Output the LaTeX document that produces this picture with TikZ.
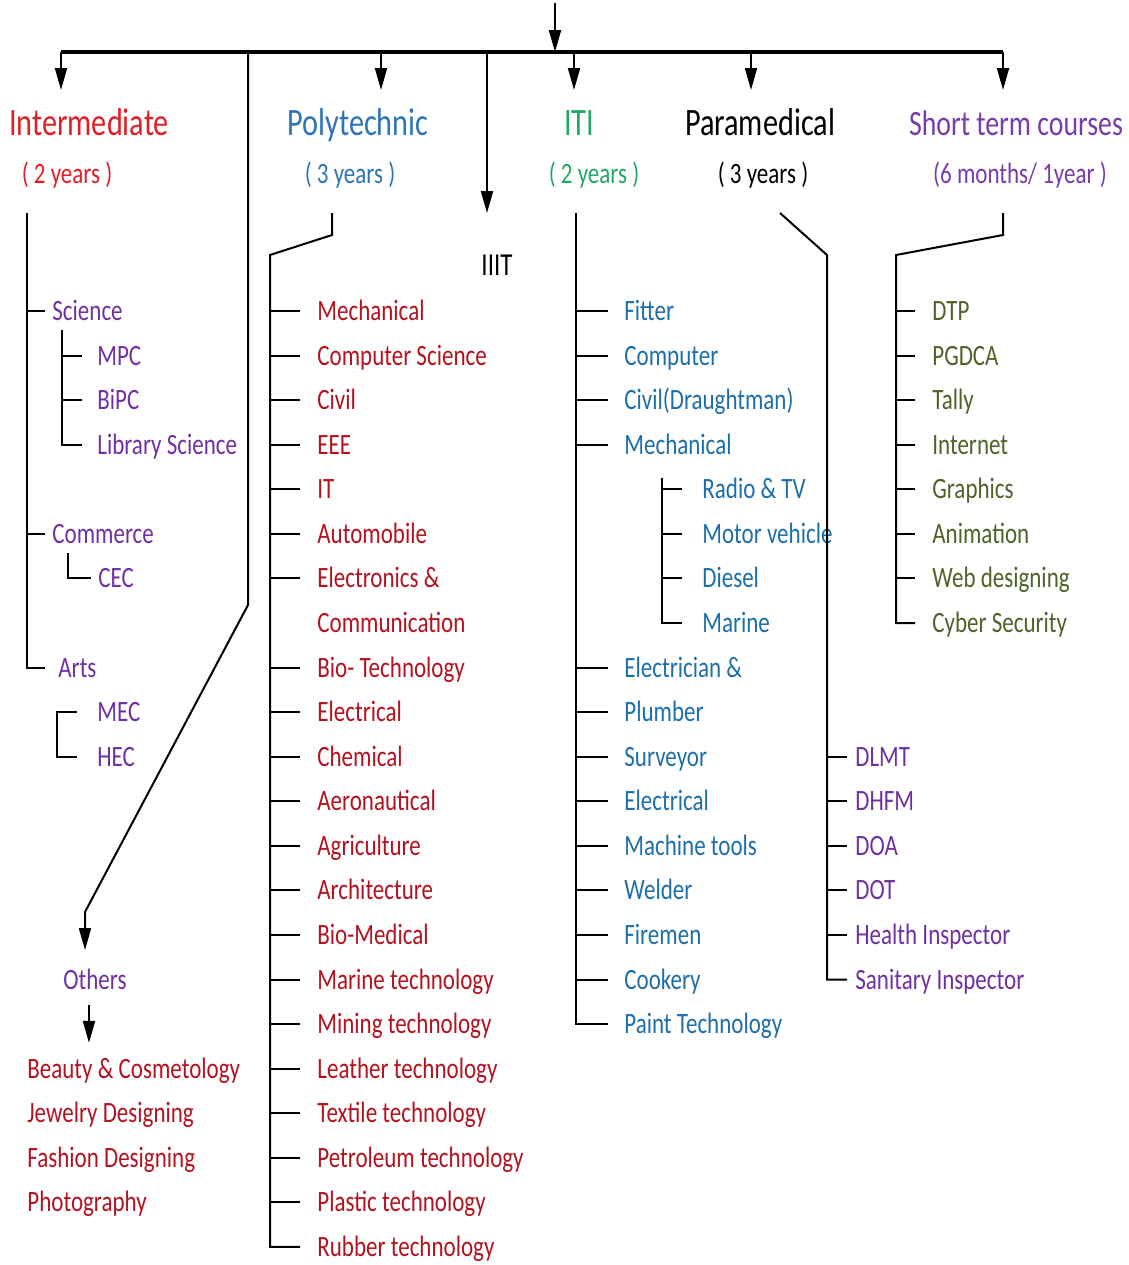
\documentclass[tikz,border=0pt]{standalone}
\usepackage{fontspec}
\setmainfont{Carlito}[FakeStretch=0.78]
\usepackage{tikz}
\usetikzlibrary{arrows.meta,positioning}
\definecolor{intred}{RGB}{226,30,38}
\definecolor{intpurple}{RGB}{112,48,160}
\definecolor{polyblue}{RGB}{46,117,182}
\definecolor{polyred}{RGB}{180,18,30}
\definecolor{itigreen}{RGB}{32,168,100}
\definecolor{itiblue}{RGB}{30,110,170}
\definecolor{shortpurple}{RGB}{120,60,170}
\definecolor{shortolive}{RGB}{79,98,40}
\tikzset{
    branch/.style={line width=1pt, black},
    % arrows with a long filled head
    downarrow/.style={
        line width=1pt,
        black,
        -{Triangle[length=11pt, width=6pt]}
    },
    titlenode/.style={font=\fontsize{19.4}{22}\selectfont, inner sep=0pt, text height=12.5pt, text depth=0pt},
    yearsnode/.style={font=\fontsize{14.75}{17}\selectfont, inner sep=0pt, text height=9.5pt, text depth=0pt},
    itemnode/.style={yearsnode, anchor=west, inner xsep=#1},
    itemnode/.default=8pt
}

\begin{document}
\begin{tikzpicture}[x=0.5pt, y=-0.5pt]
    \useasboundingbox (0,0) rectangle (1129,1265);

    % main bar
    \coordinate (barL) at (61,52);
    \coordinate (barR) at (1003,52);
    \coordinate (topin) at (555,3);
    \draw[line width=2.2pt] (barL) -- (barR);
    \draw[downarrow] (topin) -- (topin |- barL);

    % stream titles
    \node[titlenode, text=intred] (int) at (89,123) {Intermediate};
    \node[yearsnode, text=intred] (intyr) at (67,174) {( 2 years )};
    \node[titlenode, text=polyblue] (poly) at (358,123) {Polytechnic};
    \node[yearsnode, text=polyblue] (polyyr) at (350,174) {( 3 years )};
    \node[titlenode, text=itigreen] (iti) at (579,123) {ITI};
    \node[yearsnode, text=itigreen] (itiyr) at (594,174) {( 2 years )};
    \node[titlenode] (para) at (760,123) {Paramedical};
    \node[yearsnode] (parayr) at (763,174) {( 3 years )};
    \node[titlenode, font=\fontsize{17.8}{22}\selectfont, text=shortpurple] (short) at (1016,123) {Short term courses};
    \node[yearsnode, text=shortpurple] (shortyr) at (1020,174) {(6 months/ 1year )};
    \node[yearsnode, font=\fontsize{16}{18}\selectfont, text height=10.3pt] (iiit) at (497,265) {IIIT};

    % arrows down from the bar
    \foreach \n/\x in {int/61, poly/381, iti/574, para/751, short/1003}
        \coordinate (\n tip) at (\x,90);
    \foreach \n in {int, poly, iti, para, short}
        \draw[downarrow] (\n tip |- barL) -- (\n tip);
    \coordinate (iiittip) at (487,213);
    \draw[downarrow] (iiittip |- barL) -- (iiittip);

    % Intermediate
    \coordinate (inttop) at (27,213);
    \node[itemnode=3.5pt, text=intpurple] (sci) at (45,311) {Science};
    \node[itemnode=3.5pt, text=intpurple] (com) at (45,{311+5*44.57}) {Commerce};
    \node[itemnode=6.5pt, text=intpurple] (arts) at (45,{311+8*44.57}) {Arts};
    \draw[branch] (inttop) -- (inttop |- arts.west) -- (arts.west);
    \draw[branch] (inttop |- sci.west) -- (sci.west);
    \draw[branch] (inttop |- com.west) -- (com.west);

    \coordinate (scitop) at (62,330);
    \foreach \r/\n/\t in {1/mpc/MPC, 2/bipc/BiPC, 3/lib/Library Science}
        \node[itemnode=7.5pt, text=intpurple] (\n) at (82,{311+44.57*\r}) {\t};
    \draw[branch] (scitop) -- (scitop |- lib.west) -- (lib.west);
    \draw[branch] (scitop |- mpc.west) -- (mpc.west);
    \draw[branch] (scitop |- bipc.west) -- (bipc.west);

    \coordinate (comtop) at (68,553);
    \node[itemnode=3.5pt, text=intpurple] (cec) at (91,{311+6*44.57}) {CEC};
    \draw[branch] (comtop) -- (comtop |- cec.west) -- (cec.west);

    \coordinate (artsline) at (57,700);
    \node[itemnode=10pt, text=intpurple] (mec) at (77,{311+9*44.57}) {MEC};
    \node[itemnode=10pt, text=intpurple] (hec) at (77,{311+10*44.57}) {HEC};
    \draw[branch] (mec.west) -- (artsline |- mec.west) -- (artsline |- hec.west) -- (hec.west);

    % Others
    \coordinate (othtop) at (248,52);
    \coordinate (othknee) at (248,605);
    \coordinate (othbend) at (85,912);
    \node[yearsnode, text=intpurple] (oth) at (95,980) {Others};
    \draw[downarrow, shorten >=10pt] (othtop) -- (othknee) -- (othbend) -- (othbend |- oth.north);
    \foreach \r/\n/\t in {17/o1/Beauty \& Cosmetology, 18/o2/Jewelry Designing, 19/o3/Fashion Designing, 20/o4/Photography}
        \node[itemnode=0pt, text=polyred] (\n) at (27,{311+44.57*\r}) {\t};
    \draw[downarrow, shorten <=7.5pt, shorten >=8pt] ([xshift=-3pt]oth.south) -- ([xshift=-3pt]oth.south |- o1.north);

    % Polytechnic
    \coordinate (polystub) at (332,213);
    \coordinate (polyknee) at (332,235);
    \coordinate (polytop) at (270,255);
    \foreach \r/\t in {0/Mechanical, 1/Computer Science, 2/Civil, 3/EEE, 4/IT, 5/Automobile,
        6/Electronics \&, 7/Communication, 8/Bio- Technology, 9/Electrical, 10/Chemical,
        11/Aeronautical, 12/Agriculture, 13/Architecture, 14/Bio-Medical, 15/Marine technology,
        16/Mining technology, 17/Leather technology, 18/Textile technology,
        19/Petroleum technology, 20/Plastic technology, 21/Rubber technology}
        \node[itemnode=8.5pt, text=polyred] (p\r) at (300,{311+44.57*\r}) {\t};
    \draw[branch] (polystub) -- (polyknee) -- (polytop) -- (polytop |- p21.west) -- (p21.west);
    \foreach \r in {0,1,2,3,4,5,6,8,9,10,11,12,13,14,15,16,17,18,19,20}
        \draw[branch] (polytop |- p\r.west) -- (p\r.west);

    % ITI
    \coordinate (itop) at (576,213);
    \foreach \r/\t in {0/Fitter, 1/Computer, 2/{Civil(Draughtman)}, 3/Mechanical, 8/Electrician \&,
        9/Plumber, 10/Surveyor, 11/Electrical, 12/Machine tools, 13/Welder, 14/Firemen,
        15/Cookery, 16/Paint Technology}
        \node[itemnode=8pt, text=itiblue] (i\r) at (608,{311+44.57*\r}) {\t};
    \foreach \r/\t in {4/Radio \& TV, 5/Motor vehicle, 6/Diesel, 7/Marine}
        \node[itemnode=10pt, text=itiblue] (i\r) at (682,{311+44.57*\r}) {\t};
    \draw[branch] (itop) -- (itop |- i16.west) -- (i16.west);
    \foreach \r in {0,1,2,3,8,9,10,11,12,13,14,15}
        \draw[branch] (itop |- i\r.west) -- (i\r.west);
    \coordinate (mechsub) at (662,478);
    \draw[branch] (mechsub) -- (mechsub |- i7.west) -- (i7.west);
    \foreach \r in {4,5,6}
        \draw[branch] (mechsub |- i\r.west) -- (i\r.west);

    % Paramedical
    \coordinate (parastub) at (780,213);
    \coordinate (paratop) at (827,255);
    \foreach \r/\t in {10/DLMT, 11/DHFM, 12/DOA, 13/DOT, 14/Health Inspector, 15/Sanitary Inspector}
        \node[itemnode=4pt, text=intpurple] (m\r) at (847,{311+44.57*\r}) {\t};
    \draw[branch] (parastub) -- (paratop) -- (paratop |- m15.west) -- (m15.west);
    \foreach \r in {10,11,12,13,14}
        \draw[branch] (paratop |- m\r.west) -- (m\r.west);

    % Short term courses
    \coordinate (shortstub) at (1003,213);
    \coordinate (shortknee) at (1003,235);
    \coordinate (shorttop) at (896,255);
    \foreach \r/\t in {0/DTP, 1/PGDCA, 2/Tally, 3/Internet, 4/Graphics, 5/Animation,
        6/Web designing, 7/Cyber Security}
        \node[itemnode=8.5pt, text=shortolive] (s\r) at (915,{311+44.57*\r}) {\t};
    \draw[branch] (shortstub) -- (shortknee) -- (shorttop) -- (shorttop |- s7.west) -- (s7.west);
    \foreach \r in {0,1,2,3,4,5,6}
        \draw[branch] (shorttop |- s\r.west) -- (s\r.west);
\end{tikzpicture}
\end{document}
